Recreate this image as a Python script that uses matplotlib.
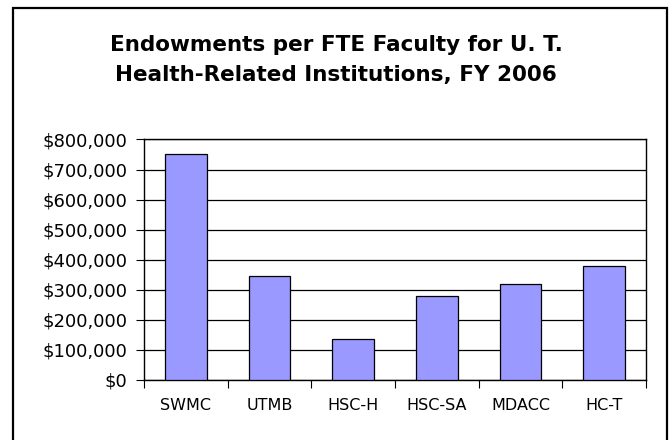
import matplotlib.pyplot as plt
from matplotlib.patches import Rectangle
from matplotlib.ticker import FuncFormatter, MultipleLocator

institutions = ["SWMC", "UTMB", "HSC-H", "HSC-SA", "MDACC", "HC-T"]
endowment = [753000, 346000, 137000, 279000, 319000, 379000]

plt.rcParams['font.family'] = ['DejaVu Sans']

fig = plt.figure(figsize=(6.72, 4.40), dpi=100)
# outer chart border (bottom edge runs off the image)
fig.patches.append(Rectangle((13 / 672, -0.05), 654 / 672, 1.05 - 8 / 440,
                             transform=fig.transFigure, fill=False,
                             edgecolor="black", linewidth=1.6))

ax = fig.add_axes([144 / 672, 1 - 379.7 / 440, 502 / 672, 240.2 / 440])
x = range(len(institutions))
ax.bar(x, endowment, width=0.5, color="#9999FF", edgecolor="black",
       linewidth=0.9, zorder=3)

ax.set_xlim(-0.5, len(institutions) - 0.5)
ax.set_ylim(0, 800000)
ax.yaxis.set_major_locator(MultipleLocator(100000))
ax.yaxis.set_major_formatter(FuncFormatter(lambda v, p: f"${v:,.0f}"))
ax.grid(axis="y", color="black", linewidth=0.9, zorder=0)

ax.set_xticks([i + 0.5 for i in range(-1, len(institutions))])
ax.set_xticklabels([])
ax.set_xticks(list(x), minor=True)
ax.set_xticklabels(institutions, minor=True)
ax.tick_params(axis="x", which="minor", length=0, pad=13, labelsize=11.5)
ax.tick_params(axis="x", which="major", length=6, direction="out")
ax.tick_params(axis="y", length=6, direction="out", labelsize=13, pad=6)

for s in ax.spines.values():
    s.set_linewidth(1.0)

fig.text(0.5, 1 - 45 / 440, "Endowments per FTE Faculty for U. T.", ha="center",
         va="center", fontsize=15.5, fontweight="bold")
fig.text(0.5, 1 - 75 / 440, "Health-Related Institutions, FY 2006", ha="center",
         va="center", fontsize=15.5, fontweight="bold")

fig.savefig("out.png", dpi=100)
